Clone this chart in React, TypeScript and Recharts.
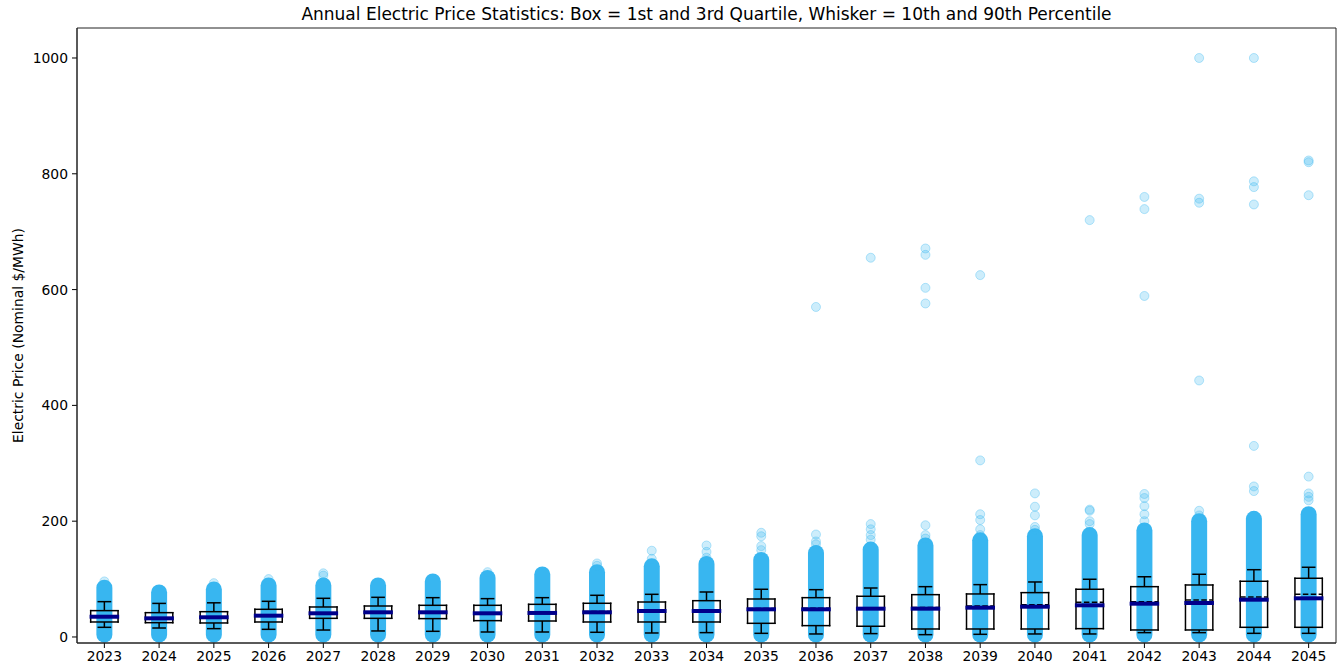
import React from "react";
import { ComposedChart, XAxis, YAxis, Scatter, ReferenceLine, ReferenceArea } from "recharts";

// yearly price statistics, $/MWh
const years = [
  2023, 2024, 2025, 2026, 2027, 2028, 2029, 2030, 2031, 2032, 2033, 2034,
  2035, 2036, 2037, 2038, 2039, 2040, 2041, 2042, 2043, 2044, 2045,
];
const p10 = [16.7, 15.5, 14.4, 13.2, 12, 10.4, 9.8, 8.6, 8.6, 8.1, 6.9, 7.5, 6.3, 5.2, 5.8, 4, 4.6, 5.2, 5.2, 7.5, 7.5, 6.3, 6.3];
const q1 = [25.9, 24.7, 24.2, 25.9, 32.2, 32.2, 31.7, 28.2, 27.6, 25.9, 25.9, 25.9, 23.6, 19.6, 18.5, 13.8, 13.8, 13.8, 14.4, 12.1, 12.1, 16.7, 16.7];
const median = [35, 32.2, 34, 36.8, 40.9, 42.6, 42.6, 40.9, 41.5, 42.6, 44.9, 44.9, 47.8, 47.8, 48.9, 48.9, 50.6, 52.3, 54.7, 57.5, 58.7, 64.4, 66.8];
const mean = [36, 33, 35, 37.8, 41.8, 43.4, 43.5, 42, 43, 44, 46, 46.2, 49, 49.5, 50.2, 51, 53.5, 55.8, 59.9, 61, 63.9, 69.1, 73.7];
const q3 = [45.5, 42, 43.7, 47.8, 51.8, 53.5, 54.7, 54.7, 56.4, 58.2, 60.4, 62.7, 65.6, 67.9, 70.3, 73.1, 74.3, 76.6, 82.4, 86.9, 89.8, 96.2, 101.4];
const p90 = [61, 58, 59, 61.6, 66.8, 68.5, 67.9, 66.2, 67.9, 72, 73.7, 77.7, 82.4, 81.7, 84.6, 86.9, 90.4, 95, 99.7, 104, 108.3, 116.2, 120.4];

// dense part of the hourly price cloud (bottom / top of the solid column)
const cloudLow = [4, 4, 4, 4, 4, 4, 4, 4, 4, 4, 4, 4, 4, 4, 4, 4, 4, 4, 4, 4, 4, 4, 4];
const cloudTop = [85, 77, 82, 89, 89, 89, 96, 102, 108, 112, 122, 126, 133, 145, 151, 158, 167, 174, 176, 184, 200, 204, 212];

// isolated hours above the dense cloud
const outliers: number[][] = [
  [96], [], [93], [100], [110, 106], [], [], [112], [], [127, 123],
  [149, 135], [158, 147, 137], [180, 174, 157, 150], [570, 177, 165, 160],
  [655, 195, 186, 176, 168], [671, 660, 603, 576, 193, 176, 170],
  [625, 305, 212, 202, 186, 176], [248, 225, 210, 190, 185],
  [720, 220, 218, 200, 195], [760, 739, 589, 247, 240, 226, 212, 200],
  [1000, 757, 750, 443, 218, 210], [1000, 787, 777, 747, 330, 260, 252],
  [823, 820, 763, 277, 248, 242, 236],
];

const yTicks = [0, 200, 400, 600, 800, 1000];
const xDomain = [2022.5, 2045.5];
const yDomain = [-10.4, 1051.8];

const BLUE = "#38b6f0";
const NAVY = "#00008b";
const FONT = "'DejaVu Sans', sans-serif";

const outlierPoints = years.flatMap((yr, i) => outliers[i].map((v) => ({ year: yr, price: v })));

const seg = (x1: number, y1: number, x2: number, y2: number) => [
  { x: x1, y: y1 },
  { x: x2, y: y2 },
];

export default function App() {
  const tick = { fill: "#000", fontSize: 13.9, fontFamily: FONT };
  const boxW = 0.25;
  const capW = 0.125;

  return (
    <div style={{ position: "fixed", left: 0, top: 0, width: 1340, height: 667, background: "#fff", fontFamily: FONT }}>
      <div
        style={{
          position: "absolute",
          left: 77,
          width: 1259,
          top: 4,
          textAlign: "center",
          fontSize: 17,
          color: "#000",
        }}
      >
        Annual Electric Price Statistics: Box = 1st and 3rd Quartile, Whisker = 10th and 90th Percentile
      </div>
      <ComposedChart width={1340} height={667} margin={{ top: 28, right: 4, bottom: 0, left: 0 }}>
        <XAxis
          type="number"
          dataKey="year"
          domain={xDomain}
          ticks={years}
          interval={0}
          allowDataOverflow
          height={24}
          tick={tick}
          tickSize={5}
          tickMargin={3}
          stroke="#000"
          tickLine={{ stroke: "#000" }}
          axisLine={{ stroke: "#222" }}
        />
        <YAxis
          type="number"
          dataKey="price"
          domain={yDomain}
          ticks={yTicks}
          allowDataOverflow
          width={77}
          tick={tick}
          tickSize={5}
          tickMargin={4}
          stroke="#000"
          axisLine={{ stroke: "#222" }}
          label={{
            value: "Electric Price (Nominal $/MWh)",
            angle: -90,
            position: "insideLeft",
            offset: 18,
            style: { textAnchor: "middle", fontSize: 13.9, fontFamily: FONT, fill: "#000" },
          }}
        />

        {years.map((yr, i) => (
          <ReferenceLine
            key={"cloud" + yr}
            segment={seg(yr, cloudLow[i], yr, cloudTop[i])}
            stroke={BLUE}
            strokeWidth={16}
            strokeLinecap="round"
            zIndex={300}
          />
        ))}

        <Scatter
          data={outlierPoints}
          isAnimationActive={false}
          zIndex={350}
          shape={(p: any) => (
            <circle
              cx={p.cx}
              cy={p.cy}
              r={4.5}
              fill={BLUE}
              fillOpacity={0.25}
              stroke={BLUE}
              strokeOpacity={0.35}
              strokeWidth={1}
            />
          )}
        />

        {years.map((yr, i) => (
          <React.Fragment key={"box" + yr}>
            <ReferenceLine segment={seg(yr - boxW, q1[i], yr + boxW, q1[i])} stroke="#000" strokeWidth={1.5} strokeLinecap="square" zIndex={400} />
            <ReferenceLine segment={seg(yr - boxW, q3[i], yr + boxW, q3[i])} stroke="#000" strokeWidth={1.5} strokeLinecap="square" zIndex={400} />
            <ReferenceLine segment={seg(yr - boxW, q1[i], yr - boxW, q3[i])} stroke="#000" strokeWidth={1.5} strokeLinecap="square" zIndex={400} />
            <ReferenceLine segment={seg(yr + boxW, q1[i], yr + boxW, q3[i])} stroke="#000" strokeWidth={1.5} strokeLinecap="square" zIndex={400} />
            <ReferenceLine segment={seg(yr, q3[i], yr, p90[i])} stroke="#000" strokeWidth={1.5} zIndex={400} />
            <ReferenceLine segment={seg(yr, p10[i], yr, q1[i])} stroke="#000" strokeWidth={1.5} zIndex={400} />
            <ReferenceLine segment={seg(yr - capW, p90[i], yr + capW, p90[i])} stroke="#000" strokeWidth={1.5} zIndex={400} />
            <ReferenceLine segment={seg(yr - capW, p10[i], yr + capW, p10[i])} stroke="#000" strokeWidth={1.5} zIndex={400} />
            <ReferenceLine segment={seg(yr - boxW, mean[i], yr + boxW, mean[i])} stroke="#000" strokeWidth={1.5} strokeDasharray="5.5 2.4" zIndex={410} />
            <ReferenceLine segment={seg(yr - 0.27, median[i], yr + 0.27, median[i])} stroke={NAVY} strokeWidth={4} zIndex={420} />
          </React.Fragment>
        ))}

        {/* axes frame (top and right spines) */}
        <ReferenceArea
          x1={xDomain[0]}
          x2={xDomain[1]}
          y1={yDomain[0]}
          y2={yDomain[1]}
          fill="none"
          fillOpacity={0}
          stroke="#222"
          strokeWidth={1}
          ifOverflow="visible"
          zIndex={500}
        />
      </ComposedChart>
    </div>
  );
}
